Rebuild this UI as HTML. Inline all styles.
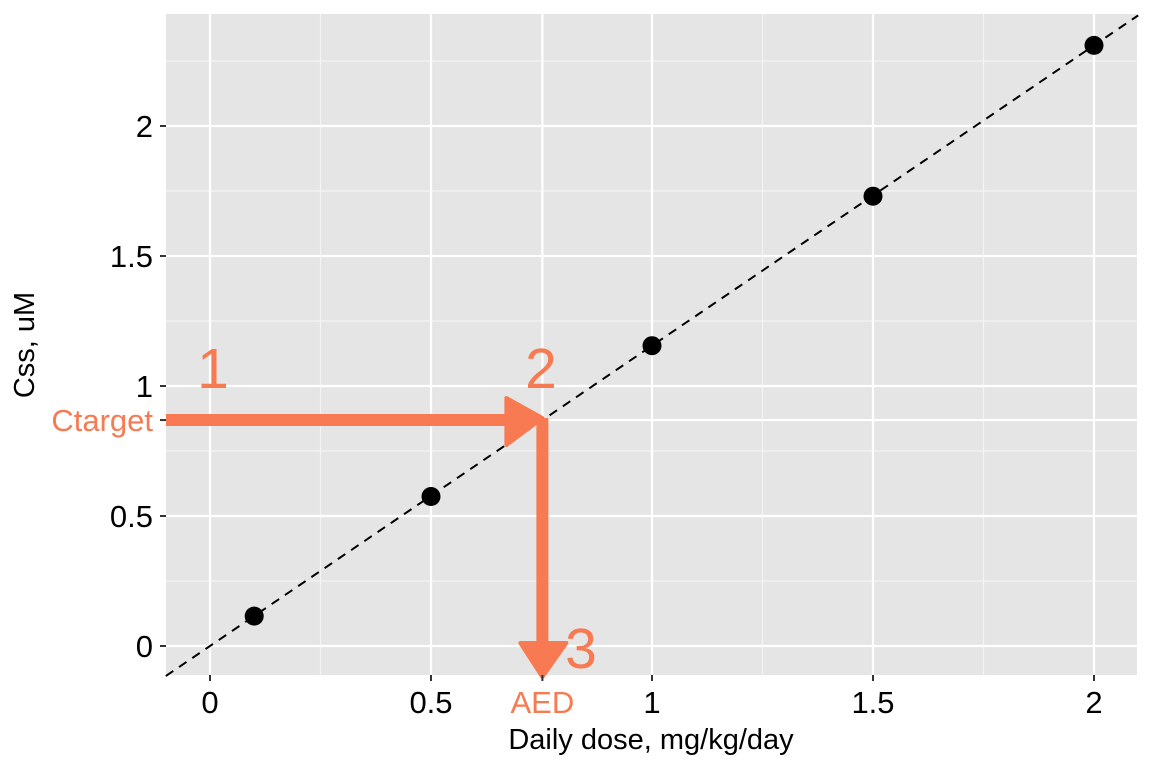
<!DOCTYPE html>
<html><head><meta charset="utf-8"><style>
body{margin:0;background:#fff}
svg{display:block;font-family:"Liberation Sans",Arial,sans-serif}
</style></head><body>
<svg id="chart" width="1152" height="768" xmlns="http://www.w3.org/2000/svg">
<rect x="166" y="14" width="971" height="661" fill="#e5e5e5"/>
<g id="grid"></g>
<g id="marks"></g>
<g id="axes"></g>
</svg>
<script>
const xTicks=[0,0.5,1,1.5,2];
const xTickLabels=["0","0.5","1","1.5","2"];
const yTicks=[0,0.5,1,1.5,2];
const yTickLabels=["0","0.5","1","1.5","2"];
const xMinor=[0.25,1.25,1.75];
const yMinor=[0.25,0.75,1.25,1.75,2.25];
const doses=[0.1,0.5,1,1.5,2];
const css=[0.115,0.575,1.155,1.73,2.31];
const slope=1.155;
const cTarget=0.869;
const aed=0.752;
const X=v=>210+v*442, Y=v=>646-v*260;
const NS="http://www.w3.org/2000/svg";
function mk(tag,attrs,parent,text){const e=document.createElementNS(NS,tag);for(const k in attrs)e.setAttribute(k,attrs[k]);if(text!==undefined)e.textContent=text;parent.appendChild(e);return e;}
const grid=document.getElementById('grid'),marks=document.getElementById('marks'),axes=document.getElementById('axes');
const C="#f87a52";
xMinor.forEach(v=>{const l=mk('line',{x1:X(v),x2:X(v),y1:14,y2:675,stroke:'#f4f4f4','stroke-width':1.2},grid);

});
yMinor.forEach(v=>{const l=mk('line',{x1:166,x2:1137,y1:Y(v),y2:Y(v),stroke:'#f4f4f4','stroke-width':1.2},grid);

});
xTicks.concat([aed]).forEach(v=>{const l=mk('line',{x1:X(v),x2:X(v),y1:14,y2:675,stroke:'#fff','stroke-width':2.2},grid);

});
yTicks.concat([cTarget]).forEach(v=>{const l=mk('line',{x1:166,x2:1137,y1:Y(v),y2:Y(v),stroke:'#fff','stroke-width':2.2},grid);

});
const x0=-0.1,x1=2.1;
const fit=mk('line',{x1:X(x0),y1:Y(x0*slope),x2:X(x1),y2:Y(x1*slope),stroke:'#000','stroke-width':2,'stroke-dasharray':'9 7'},marks);


doses.forEach((d,i)=>{const c=mk('circle',{cx:X(d),cy:Y(css[i]),r:9.5,fill:'#000'},marks);

});
const ty=Y(cTarget),ax=X(aed);
const h=mk('line',{x1:166,y1:ty,x2:ax-36,y2:ty,stroke:C,'stroke-width':12},marks);


const hh=mk('path',{d:`M${ax-36},${ty-22} L${ax},${ty-2} L${ax-36},${ty+25} Z`,fill:C,stroke:C,'stroke-width':4,'stroke-linejoin':'round'},marks);


const v=mk('line',{x1:ax,y1:ty-2,x2:ax,y2:645,stroke:C,'stroke-width':12},marks);


const vh=mk('path',{d:`M${ax-22},643 L${ax+24},643 L${ax},677 Z`,fill:C,stroke:C,'stroke-width':4,'stroke-linejoin':'round'},marks);


[["1",213,388,"step-1-label"],["2",541,388,"step-2-label"],["3",581,668,"step-3-label"]].forEach(a=>{const t=mk('text',{x:a[1],y:a[2],'font-size':57,fill:C,'text-anchor':'middle'},marks,a[0]);

});
xTicks.forEach((v,i)=>{const tk=mk('line',{x1:X(v),x2:X(v),y1:675,y2:681,stroke:'#333','stroke-width':2},axes);


const t=mk('text',{x:X(v),y:713,'font-size':31,fill:'#000','text-anchor':'middle'},axes,xTickLabels[i]);

});
yTicks.forEach((v,i)=>{const tk=mk('line',{x1:160,x2:166,y1:Y(v),y2:Y(v),stroke:'#333','stroke-width':2},axes);


const t=mk('text',{x:153,y:Y(v)+11,'font-size':31,fill:'#000','text-anchor':'end'},axes,yTickLabels[i]);

});
const at=mk('line',{x1:ax,x2:ax,y1:675,y2:681,stroke:'#333','stroke-width':2},axes);


const al=mk('text',{x:ax,y:713,'font-size':31,fill:C,'text-anchor':'middle'},axes,"AED");


const ct=mk('line',{x1:160,x2:166,y1:ty,y2:ty,stroke:'#333','stroke-width':2},axes);


const cl=mk('text',{x:153,y:ty+11,'font-size':31,fill:C,'text-anchor':'end'},axes,"Ctarget");


const xt=mk('text',{x:651,y:749,'font-size':29,fill:'#000','text-anchor':'middle'},axes,"Daily dose, mg/kg/day");


const yt=mk('text',{x:0,y:0,'font-size':29,fill:'#000','text-anchor':'middle',transform:'translate(34,345) rotate(-90)'},axes,"Css, uM");


</script>
</body></html>
